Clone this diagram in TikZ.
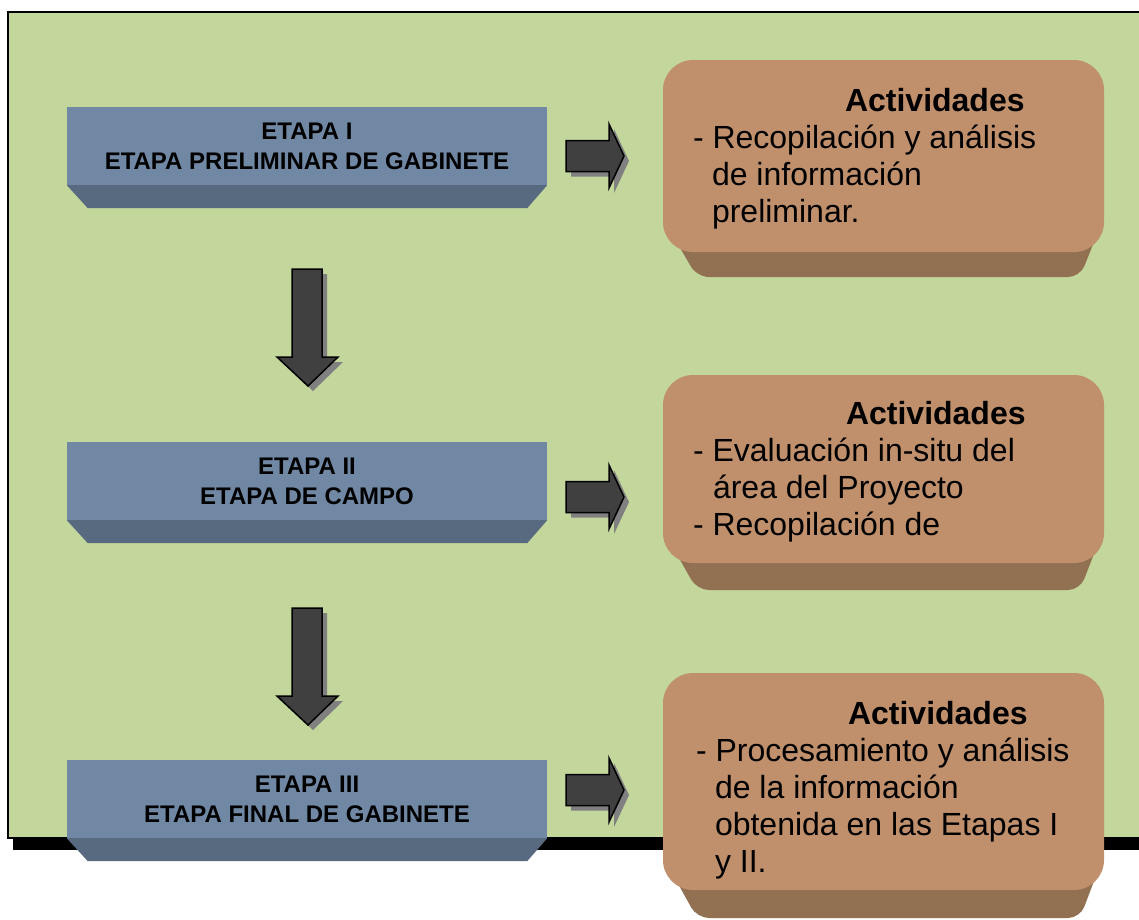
\documentclass[tikz,border=0pt]{standalone}
\usepackage{fontspec}
\setmainfont{Liberation Sans}
\usetikzlibrary{calc}
\definecolor{bggreen}{HTML}{C3D69B}
\definecolor{etface}{HTML}{7188A5}
\definecolor{etbevel}{HTML}{586A80}
\definecolor{acface}{HTML}{C0906C}
\definecolor{acbevel}{HTML}{927152}
\definecolor{arrfill}{HTML}{404040}
\definecolor{arrshadow}{HTML}{808080}
\tikzset{
  etapa/.style={rectangle, fill=etface, minimum width=480pt, minimum height=78pt,
    inner sep=0pt, align=center, font=\bfseries\fontsize{24}{30}\selectfont},
  actbox/.style={rectangle, rounded corners=30pt, fill=acface, minimum width=441pt, inner sep=0pt},
  acttext/.style={align=left, inner sep=0pt, font=\fontsize{32}{37}\selectfont, anchor=base west},
  arrowbody/.style={fill=arrfill, draw=black, line width=1.5pt, line join=miter},
  arrowshade/.style={fill=arrshadow},
  rarrow/.pic={
    \fill[arrowshade, shift={(5,5)}] (0,-15.5) -- (43,-15.5) -- (43,-32) -- (58,0) -- (43,32) -- (43,15.5) -- (0,15.5) -- cycle;
    \draw[arrowbody] (0,-15.5) -- (43,-15.5) -- (43,-32) -- (58,0) -- (43,32) -- (43,15.5) -- (0,15.5) -- cycle;
  },
  darrow/.pic={
    \fill[arrowshade, shift={(5,5)}] (-15,0) -- (15,0) -- (15,88) -- (31,88) -- (1,117) -- (-30,88) -- (-15,88) -- cycle;
    \draw[arrowbody] (-15,0) -- (15,0) -- (15,88) -- (31,88) -- (1,117) -- (-30,88) -- (-15,88) -- cycle;
  }
}
\begin{document}
\begin{tikzpicture}[x=1pt, y=-1pt]
\clip (0,0) rectangle (1139,919);
\fill[white] (0,0) rectangle (1139,919);
% frame
\fill[black] (13,838) rectangle (1150,850);
\draw[fill=bggreen, line width=2pt] (8,12) rectangle (1150,838);

% etapa boxes
\node[etapa] (e1) at (307,146) {ETAPA I\\ETAPA PRELIMINAR DE GABINETE};
\node[etapa] (e2) at (307,481) {ETAPA II\\ETAPA DE CAMPO};
\node[etapa] (e3) at (307,799) {ETAPA III\\ETAPA FINAL DE GABINETE};
\foreach \e in {e1,e2,e3}{
  \fill[etbevel] (\e.south west) -- (\e.south east) -- ++(-20,23) -- ($(\e.south west)+(21,23)$) -- cycle;
}

% activity boxes
\coordinate (c1) at (883.5,156);
\coordinate (c2) at (883.5,469);
\coordinate (c3) at (883.5,781.5);
\fill[acbevel, rounded corners=12pt] (665,222) -- (1102,222) -- (1080,277) -- (697,277) -- cycle;
\fill[acbevel, rounded corners=12pt] (665,533) -- (1102,533) -- (1080,590) -- (697,590) -- cycle;
\fill[acbevel, rounded corners=12pt] (665,860) -- (1102,860) -- (1080,918) -- (697,918) -- cycle;
\node[actbox, minimum height=192pt] (a1) at (c1) {};
\node[actbox, minimum height=188pt] (a2) at (c2) {};
\node[actbox, minimum height=217pt] (a3) at (c3) {};

\node[acttext] (t1) at ($(a1.north west)+(30,162.5)$)
  {\hspace*{152pt}\textbf{Actividades}\\- Recopilación y análisis\\\hspace*{19pt}de información\\\hspace*{19pt}preliminar.};
\node[acttext] (t2) at ($(a2.north west)+(30,160.5)$)
  {\hspace*{153pt}\textbf{Actividades}\\- Evaluación in-situ del\\\hspace*{20pt}área del Proyecto\\- Recopilación de};
\node[acttext] (t3) at ($(a3.north west)+(33,199.5)$)
  {\hspace*{152pt}\textbf{Actividades}\\- Procesamiento y análisis\\\hspace*{19pt}de la información\\\hspace*{19pt}obtenida en las Etapas I\\\hspace*{19pt}y II.};

% arrows
\pic at (566,156) {rarrow};
\pic at (566,497) {rarrow};
\pic at (566,790) {rarrow};
\pic at (307,269) {darrow};
\pic at (307,608) {darrow};
\end{tikzpicture}
\end{document}
